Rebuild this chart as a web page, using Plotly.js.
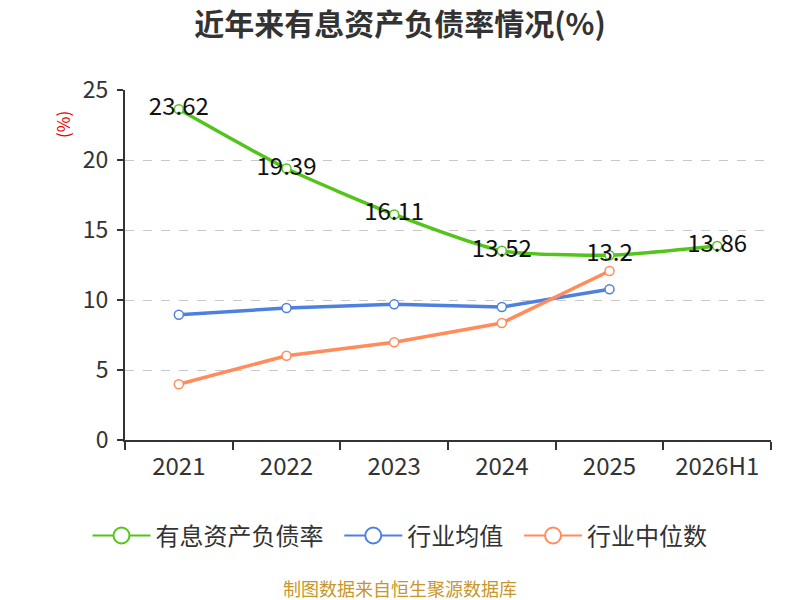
<!DOCTYPE html>
<html><head><meta charset="utf-8">
<script src="https://cdn.plot.ly/plotly-3.0.1.min.js"></script>
<style>html,body{margin:0;padding:0;background:#fff}#c{width:800px;height:600px}</style>
</head><body><div id="c"></div>
<script>
const categories = ['2021','2022','2023','2024','2025','2026H1'];
const debtRatio = [23.62, 19.39, 16.11, 13.52, 13.2, 13.86];
const industryAvg = [8.95, 9.43, 9.69, 9.5, 10.77];
const industryMedian = [3.98, 6.02, 6.98, 8.36, 12.07];
const seriesNames = ['有息资产负债率', '行业均值', '行业中位数'];
const colors = ['#52c41a', '#4e80e0', '#ff8c5a'];
const font = '"Noto Sans CJK SC", "Noto Sans", sans-serif';

const traces = [
  {x: categories, y: debtRatio, mode: 'lines+markers+text', text: debtRatio.map(String),
   textposition: 'middle center', textfont: {size: 24, color: '#111', family: font},
   line: {color: colors[0], width: 3.5, shape: 'spline', smoothing: 0.6},
   marker: {size: 9, color: '#fff', line: {color: colors[0], width: 1.5}},
   showlegend: false, cliponaxis: false},
  {x: categories.slice(0, industryAvg.length), y: industryAvg, mode: 'lines+markers',
   line: {color: colors[1], width: 3.5}, marker: {size: 9, color: '#fff', line: {color: colors[1], width: 1.5}},
   showlegend: false},
  {x: categories.slice(0, industryMedian.length), y: industryMedian, mode: 'lines+markers',
   line: {color: colors[2], width: 3.5}, marker: {size: 9, color: '#fff', line: {color: colors[2], width: 1.5}},
   showlegend: false}
];
seriesNames.forEach((n, i) => traces.push({x: [null], y: [null], name: i < seriesNames.length - 1 ? n + '  ' : n,
  mode: 'lines+markers',
  line: {color: colors[i], width: 2}, marker: {size: 21, color: '#fff', line: {color: colors[i], width: 2}}}));

const layout = {
  width: 800, height: 600,
  margin: {l: 125, r: 29, t: 90, b: 160},
  paper_bgcolor: '#fff', plot_bgcolor: '#fff',
  font: {family: font, color: '#333'},
  title: {text: '<b>近年来有息资产负债率情况(%)</b>', x: 0.5, xanchor: 'center', y: 0.96, yanchor: 'middle',
    font: {size: 30, color: '#333', family: font}},
  xaxis: {type: 'category', tickson: 'boundaries', ticks: 'outside', ticklen: 8, tickcolor: '#333', tickwidth: 2,
    showline: true, linecolor: '#333', linewidth: 2, showgrid: false, zeroline: false, ticklabelstandoff: 4,
    tickfont: {size: 24, color: '#333', family: font}, range: [-0.5, 5.5], fixedrange: true},
  yaxis: {range: [0, 25], dtick: 5, ticks: 'outside', ticklen: 6, tickcolor: '#333', tickwidth: 2,
    showline: true, linecolor: '#333', linewidth: 2, zeroline: false, ticklabelstandoff: 4,
    showgrid: true, gridcolor: '#c8c8c8', griddash: 'dash', gridwidth: 1,
    tickfont: {size: 23, color: '#333', family: font}},
  legend: {orientation: 'h', x: 0.4257, xanchor: 'center', y: -0.274, yanchor: 'middle',
    font: {size: 24, color: '#333', family: font}, itemwidth: 58},
  annotations: [
    {text: '(%)', xref: 'paper', yref: 'paper', x: -0.0975, y: 0.9, xanchor: 'center', yanchor: 'middle',
      textangle: -90, showarrow: false, font: {size: 17, color: '#e00', family: font}},
    {text: '制图数据来自恒生聚源数据库', xref: 'paper', yref: 'paper', x: 0.4257, y: -0.423,
      xanchor: 'center', yanchor: 'middle', showarrow: false,
      font: {size: 18, color: '#c8962a', family: font}}
  ]
};
Plotly.newPlot('c', traces, layout, {displayModeBar: false, staticPlot: true});
</script></body></html>
